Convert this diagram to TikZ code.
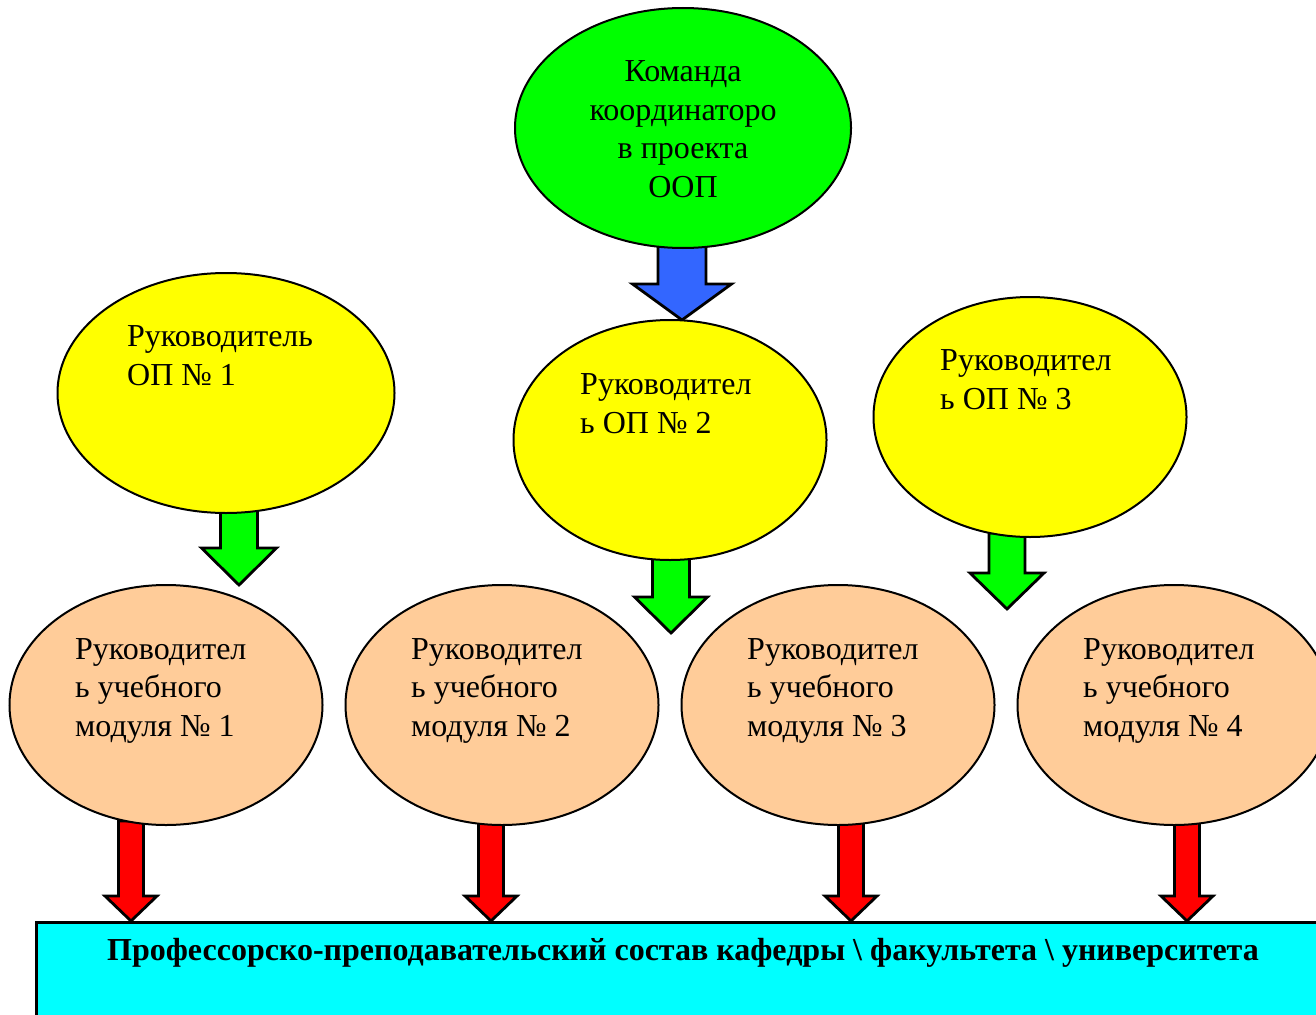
\documentclass[tikz,border=0pt]{standalone}
\usepackage{fontspec}
\setmainfont{Liberation Serif}
\usetikzlibrary{shapes.geometric,calc,backgrounds}
\definecolor{peach}{RGB}{255,204,153}
\definecolor{teamgreen}{RGB}{0,255,0}
\definecolor{opyellow}{RGB}{255,255,0}
\definecolor{staffcyan}{RGB}{0,255,255}
\definecolor{arrowblue}{RGB}{51,102,255}
\definecolor{arrowred}{RGB}{255,0,0}

% block arrow: colour, from, tip, shaft half width, head half width, head length
\newcommand{\blockarrow}[6]{%
  \draw[line width=2.8pt,fill=#1] let \p1=(#2), \p2=(#3) in
    (\x2-#4pt,\y1+5pt) -- (\x2+#4pt,\y1+5pt) -- (\x2+#4pt,\y2+#6pt) -- (\x2+#5pt,\y2+#6pt)
    -- (\x2,\y2) -- (\x2-#5pt,\y2+#6pt) -- (\x2-#4pt,\y2+#6pt) -- cycle;}

\begin{document}
\begin{tikzpicture}[x=1pt,y=-1pt,
  oval/.style={ellipse,draw,line width=2pt,inner sep=0pt,minimum width=313pt,minimum height=240pt},
  txt/.style={font=\fontsize{32}{38.5}\selectfont,align=left,inner sep=0pt,anchor=base west}]
\useasboundingbox (0,0) rectangle (1316,1014);
\clip (0,0) rectangle (1316,1014);

\node[oval,fill=teamgreen,minimum width=336pt] (team) at (683,128) {};
\node[oval,fill=opyellow,minimum width=337pt] (op1) at (226,393) {};
\node[oval,fill=opyellow] (op2) at (670,440) {};
\node[oval,fill=opyellow] (op3) at (1030,417) {};
\node[oval,fill=peach] (m1) at (166,705) {};
\node[oval,fill=peach] (m2) at (502,705) {};
\node[oval,fill=peach] (m3) at (838,705) {};
\node[oval,fill=peach] (m4) at (1174,705) {};
\node[draw,line width=2.8pt,fill=staffcyan,anchor=north west,minimum width=1320pt,minimum height=120pt] (staff) at (35,921) {};

% anchors sit on the baseline of the last line
\node[txt,align=center,anchor=base] (teamtxt) at (683,197) {Команда\\координаторо\\в проекта\\ООП};
\node[txt] (op1txt) at (127,385) {Руководитель\\ОП № 1};
\node[txt] (op2txt) at (580,433) {Руководител\\ь ОП № 2};
\node[txt] (op3txt) at (940,409) {Руководител\\ь ОП № 3};
\node[txt] (m1txt) at (75,736) {Руководител\\ь учебного\\модуля № 1};
\node[txt] (m2txt) at (411,736) {Руководител\\ь учебного\\модуля № 2};
\node[txt] (m3txt) at (747,736) {Руководител\\ь учебного\\модуля № 3};
\node[txt] (m4txt) at (1083,736) {Руководител\\ь учебного\\модуля № 4};
\node[font=\bfseries\fontsize{32}{38}\selectfont,inner sep=0pt,anchor=base] (stafftxt) at (683,960)
  {Профессорско-преподавательский состав кафедры \textbackslash{} факультета \textbackslash{} университета};

\coordinate (t0) at (682,320);
\coordinate (t1) at (239,585);
\coordinate (t2) at (671,633);
\coordinate (t3) at (1007,609);
\coordinate (r1) at (131,921);
\coordinate (r2) at (491,921);
\coordinate (r3) at (851,921);
\coordinate (r4) at (1187,921);

\begin{scope}[on background layer]
\blockarrow{arrowblue}{team.south}{t0}{24}{49.5}{36}
\blockarrow{teamgreen}{op1.south}{t1}{18.5}{37.5}{37}
\blockarrow{teamgreen}{op2.south}{t2}{18.5}{36.5}{36}
\blockarrow{teamgreen}{op3.south}{t3}{18}{37}{36}
\blockarrow{arrowred}{m1.south}{r1}{12.5}{26}{25}
\blockarrow{arrowred}{m2.south}{r2}{12.5}{26}{25}
\blockarrow{arrowred}{m3.south}{r3}{12.5}{26}{25}
\blockarrow{arrowred}{m4.south}{r4}{12.5}{26}{25}
\end{scope}
\end{tikzpicture}
\end{document}
